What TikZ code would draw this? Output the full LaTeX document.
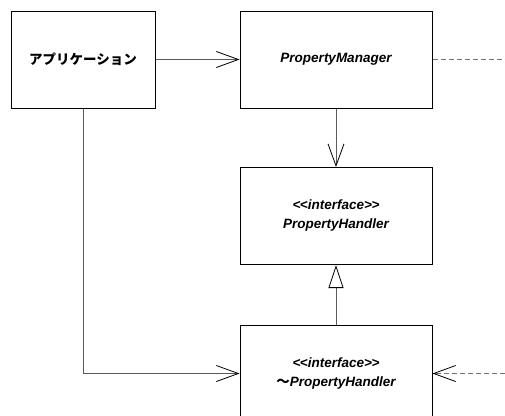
\documentclass[tikz,border=0pt]{standalone}
\usepackage{fontspec}
\setmainfont{Liberation Sans}[Ligatures=NoCommon]
\newfontfamily\jpfont{Noto Sans CJK JP}
\usetikzlibrary{arrows.meta}
\tikzset{
  classbox/.style={draw=black, line width=1pt, fill=white, minimum width=192pt, minimum height=97pt, inner sep=0pt, align=center, font=\fontsize{13.5}{19}\selectfont\bfseries\itshape},
  conn/.style={draw=black!65, line width=1pt},
  dashconn/.style={draw=black!55, line width=1pt, dash pattern=on 5pt off 3pt},
  openhead/.style={-{Straight Barb[length=22pt, width=16pt, line width=0.8pt, black]}},
  inherithead/.style={-{Triangle[open, length=23pt, width=15pt, line width=0.8pt, black, fill=white]}}
}
\newcommand{\guilL}{{<}\kern-0.5pt{<}}
\newcommand{\guilR}{{>}\kern-0.5pt{>}}
\begin{document}
\begin{tikzpicture}[x=1pt, y=-1pt]
\clip (0,0) rectangle (505,415);
\useasboundingbox (0,0) rectangle (505,415);
\node[classbox, minimum width=144pt, font=\fontsize{13.5}{19}\selectfont\jpfont\bfseries] (app) at (83,59.5) {アプリケーション};
\node[classbox] (pm) at (336,59.5) {PropertyManager};
\node[classbox] (ph) at (336,216) {\guilL interface\guilR\\PropertyHandler};
\node[classbox] (tph) at (336,373.5) {\guilL interface\guilR\\{\jpfont\bfseries ～}PropertyHandler};
\coordinate (pmout) at (505,59.5);
\coordinate (tphin) at (505,373.5);
\draw[conn, openhead] (app.east) -- (pm.west);
\draw[conn, openhead] (pm.south) -- (ph.north);
\draw[conn, inherithead] (tph.north) -- (ph.south);
\draw[conn, openhead] (app.south) |- (tph.west);
\draw[dashconn] (pm.east) -- (pmout);
\draw[dashconn, openhead] (tphin) -- (tph.east);
\end{tikzpicture}
\end{document}
